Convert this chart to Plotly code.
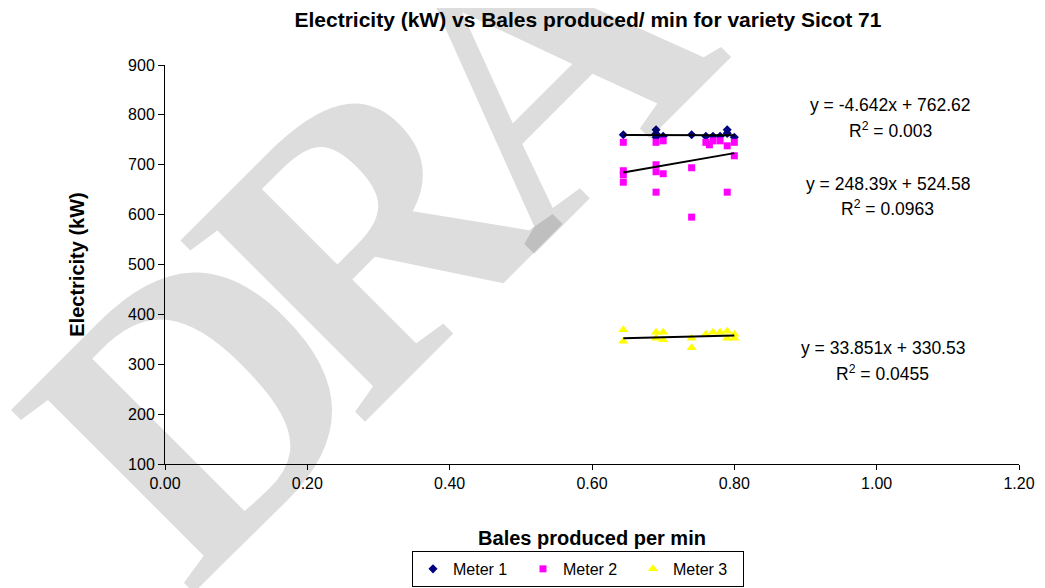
import plotly.graph_objects as go

# ---- data ----
meter1_x = [0.644, 0.69, 0.69, 0.69, 0.70, 0.74, 0.76, 0.77, 0.78, 0.79, 0.79, 0.80]
meter1_y = [760, 770, 762, 755, 757, 760, 757, 757, 757, 770, 763, 755]

meter2_x = [0.644, 0.644, 0.644, 0.644, 0.69, 0.69, 0.69, 0.69, 0.70, 0.70,
            0.74, 0.74, 0.76, 0.765, 0.77, 0.78, 0.79, 0.79, 0.80, 0.80]
meter2_y = [745, 688, 680, 665, 745, 700, 686, 645, 748, 682,
            694, 595, 745, 740, 748, 748, 738, 645, 745, 718]

meter3_x = [0.644, 0.644, 0.69, 0.69, 0.70, 0.70, 0.74, 0.74, 0.76, 0.77,
            0.78, 0.79, 0.79, 0.80, 0.80]
meter3_y = [369, 346, 364, 352, 364, 349, 352, 333, 360, 364,
            364, 366, 352, 360, 352]

# trendline coefficients (slope, intercept) and labels as printed
trend_m1 = (-4.642, 762.62)
trend_m2 = (248.39, 524.58)
trend_m3 = (33.851, 330.53)
eq_labels = ["y = -4.642x + 762.62", "y = 248.39x + 524.58", "y = 33.851x + 330.53"]
r2_labels = ["0.003", "0.0963", "0.0455"]
label_x = [1.0197, 1.0155, 1.0084]      # data-x centre of each label pair
eq_label_y = [819.9, 661.6, 333.0]      # data-y of equation line
r2_label_y = [769.8, 613.5, 282.9]      # data-y of R² line

series_names = ["Meter 1", "Meter 2", "Meter 3"]
x_ticks = [0.0, 0.2, 0.4, 0.6, 0.8, 1.0, 1.2]
y_ticks = [100, 200, 300, 400, 500, 600, 700, 800, 900]

# watermark letters visible in the frame and their centres (paper coordinates)
wm_letters = ["D", "R", "A"]
wm_x = [0.0357, 0.2360, 0.4363]
wm_y = [0.1535, 0.5818, 1.0100]

FONT = "Liberation Sans, Arial, sans-serif"

fig = go.Figure()

styles = [
    dict(symbol="diamond", color="#000080", size=7),
    dict(symbol="square", color="#FF00FF", size=7),
    dict(symbol="triangle-up", color="#FFFF00", size=9),
]
xs = [meter1_x, meter2_x, meter3_x]
ys = [meter1_y, meter2_y, meter3_y]
trends = [trend_m1, trend_m2, trend_m3]

for name, x, y, st in zip(series_names, xs, ys, styles):
    fig.add_trace(go.Scatter(
        x=x, y=y, mode="markers", name=name,
        marker=dict(symbol=st["symbol"], color=st["color"], size=st["size"],
                    line=dict(width=0)),
    ))

for x, (m, b) in zip(xs, trends):
    x0, x1 = min(x), max(x)
    fig.add_trace(go.Scatter(
        x=[x0, x1], y=[m * x0 + b, m * x1 + b], mode="lines",
        line=dict(color="black", width=2), showlegend=False, hoverinfo="skip",
    ))

annotations = []
# DRAFT watermark (one annotation per letter)
for ch, wx, wy in zip(wm_letters, wm_x, wm_y):
    annotations.append(dict(
        x=wx, y=wy, xref="paper", yref="paper", showarrow=False,
        xanchor="center", yanchor="middle",
        text="<b>" + ch + "</b>", textangle=-45,
        font=dict(family="Liberation Serif, Times New Roman, serif", size=395,
                  color="rgba(0,0,0,0.135)"),
    ))

for eq, r2, lx, ye, yr in zip(eq_labels, r2_labels, label_x, eq_label_y, r2_label_y):
    annotations.append(dict(
        x=lx, y=ye, xref="x", yref="y", showarrow=False,
        xanchor="center", yanchor="middle", text=eq,
        font=dict(family=FONT, size=17.5, color="black"),
    ))
    annotations.append(dict(
        x=lx, y=yr, xref="x", yref="y", showarrow=False,
        xanchor="center", yanchor="middle", text="R<sup>2</sup> = " + r2,
        font=dict(family=FONT, size=17.5, color="black"),
    ))

fig.update_layout(
    width=1045, height=600,
    paper_bgcolor="white", plot_bgcolor="white",
    margin=dict(l=157, r=34, t=57, b=144),
    title=dict(text="<b>Electricity (kW) vs Bales produced/ min for variety Sicot 71</b>",
               x=0.555, xanchor="center", y=1 - 11.7 / 600, yanchor="middle",
               font=dict(family=FONT, size=21, color="black")),
    font=dict(family=FONT, size=16, color="black"),
    xaxis=dict(range=[0, 1.2], tickvals=x_ticks, tickformat=".2f", automargin=False,
               showgrid=False, zeroline=False, showline=True, linecolor="black",
               linewidth=1, ticks="outside", ticklen=5, tickcolor="black",
               title=dict(text="<b>Bales produced per min</b>", standoff=39,
                          font=dict(family=FONT, size=20)),
               tickfont=dict(family=FONT, size=16)),
    yaxis=dict(range=[100, 900], tickvals=y_ticks, automargin=False,
               showgrid=False, zeroline=False, showline=True, linecolor="black",
               linewidth=1, ticks="outside", ticklen=6, tickcolor="black",
               title=dict(text="<b>Electricity (kW)</b>", standoff=38,
                          font=dict(family=FONT, size=20)),
               tickfont=dict(family=FONT, size=16)),
    legend=dict(orientation="h", x=0.4836, xanchor="center", y=-0.263, yanchor="middle",
                bordercolor="black", borderwidth=1, bgcolor="white",
                font=dict(family=FONT, size=16), entrywidth=65, itemwidth=30,
                tracegroupgap=0),
    annotations=annotations,
    showlegend=True,
)

fig.write_html("out.html")
